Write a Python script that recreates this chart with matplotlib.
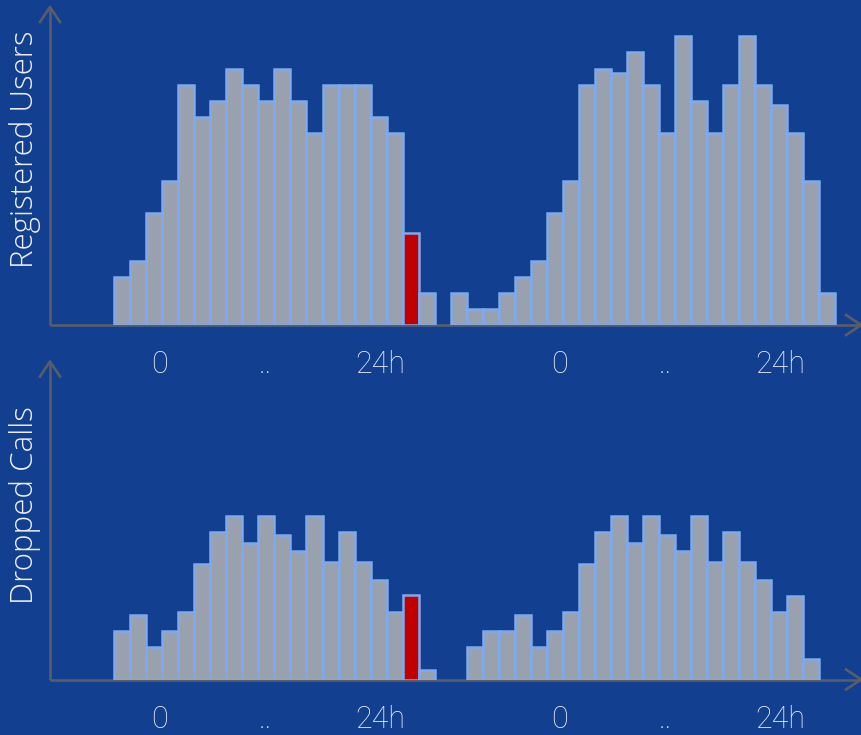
import matplotlib
matplotlib.use("Agg")
import matplotlib.pyplot as plt
import numpy as np

# ---- data (heights in arbitrary units) ----
users_day1 = [3, 4, 7, 9, 15, 13, 14, 16, 15, 14, 16, 14, 12, 15, 15, 15, 13, 12, 5.75, 2]
users_day2 = [2, 1, 1, 2, 3, 4, 7, 9, 15, 16, 15.7, 17, 15, 12, 18, 14, 12, 15, 18, 15, 13.75, 12, 9, 2]
calls_day1 = [3, 4, 2, 3, 4.2, 7.2, 9.2, 10.2, 8.5, 10.2, 9, 8, 10.2, 7.3, 9.2, 7.3, 6.2, 4.2, 5.3, 0.6]
calls_day2 = [2, 3, 3, 4, 2, 3, 4.2, 7.2, 9.2, 10.2, 8.5, 10.2, 9, 8, 10.2, 7.3, 9.2, 7.3, 6.2, 4.2, 5.2, 1.25]
users_start = [4, 25]   # first hour slot of each day
calls_start = [4, 26]
highlight_index = 18    # index in day-1 series that is highlighted
tick_labels = ["0", "..", "24h", "0", "..", "24h"]
tick_pos = [6.82, 13.41, 20.63, 31.77, 38.40, 45.58]
ylabels = ["Registered Users", "Dropped Calls"]

BG = "#123f8f"
BAR = "#98a1ad"
EDGE = "#7fa9ec"
RED = "#c00000"
AXC = "#585d68"
TXT = "#eef1f6"

W, H = 862, 735
fig = plt.figure(figsize=(W / 100, H / 100), dpi=100)
fig.patch.set_facecolor(BG)

slot = 16.03
xmax = (W - 50) / slot

def make_panel(baseline_px, d1, d2, starts, ylabel, ylabel_y):
    ax = fig.add_axes([50 / W, (H - baseline_px) / H, (W - 50) / W, 319 / H])
    ax.set_facecolor("none")
    ymax = 319 / slot
    ax.set_xlim(0, xmax)
    ax.set_ylim(0, ymax)
    for s in ax.spines.values():
        s.set_visible(False)
    # bars
    x1 = np.arange(len(d1)) + starts[0]
    x2 = np.arange(len(d2)) + starts[1]
    cols = [RED if i == highlight_index else BAR for i in range(len(d1))]
    ax.bar(x1, d1, width=1, align="edge", color=cols, edgecolor=EDGE, linewidth=1.8, zorder=3)
    ax.bar(x2, d2, width=1, align="edge", color=BAR, edgecolor=EDGE, linewidth=1.8, zorder=3)
    # axes arrows
    lw = 1.9
    ax.plot([0, xmax - 0.05], [0, 0], color=AXC, lw=lw, clip_on=False, zorder=2, solid_capstyle="butt")
    ax.plot([0, 0], [0, ymax - 0.05], color=AXC, lw=lw, clip_on=False, zorder=2, solid_capstyle="butt")
    al, aw = 15 / slot, 10 / slot
    ax.plot([xmax - 0.06 - al, xmax - 0.06, xmax - 0.06 - al], [aw, 0, -aw], color=AXC, lw=lw, clip_on=False, zorder=2)
    ax.plot([-aw, 0, aw], [ymax - 0.06 - al, ymax - 0.06, ymax - 0.06 - al], color=AXC, lw=lw, clip_on=False, zorder=2)
    ax.set_yticks([])
    ax.set_xticks(tick_pos)
    ax.set_xticklabels(tick_labels, fontfamily=["Roboto", "DejaVu Sans"], fontweight="light",
                       fontsize=22, color=TXT)
    ax.tick_params(axis="x", length=0, pad=18)
    fig.text(25 / W, 1 - ylabel_y / H, ylabel, rotation=90, ha="center", va="center",
             fontsize=22.5, color=TXT, fontfamily=["Open Sans", "DejaVu Sans"], fontweight="light")
    return ax

make_panel(325, users_day1, users_day2, users_start, ylabels[0], 149)
make_panel(679.5, calls_day1, calls_day2, calls_start, ylabels[1], 505)

fig.savefig("out.png", dpi=100, facecolor=BG)
